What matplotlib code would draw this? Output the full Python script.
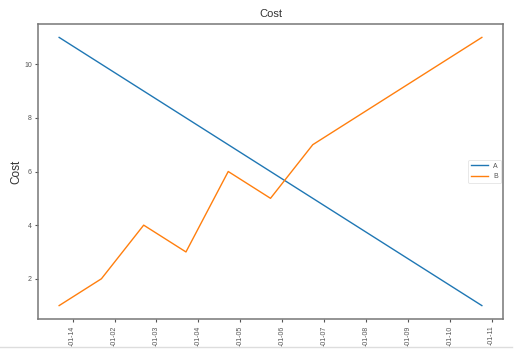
import matplotlib
matplotlib.use("Agg")
import matplotlib.pyplot as plt
import numpy as np
from matplotlib.lines import Line2D

labels = ["-01-14", "-01-02", "-01-03", "-01-04", "-01-05", "-01-06",
          "-01-07", "-01-08", "-01-09", "-01-10", "-01-11"]
series_a = [11, 10, 9, 8, 7, 6, 5, 4, 3, 2, 1]
series_b = [1, 2, 4, 3, 6, 5, 7, 8, 9, 10, 11]

plt.rcParams['font.family'] = ['Liberation Sans', 'DejaVu Sans']

W, H = 524, 357
fig = plt.figure(figsize=(W / 100, H / 100), dpi=100)
ax = fig.add_axes([38 / W, (H - 319) / H, 465 / W, 295 / H])

x = np.arange(len(series_a))
ax.plot(x, series_a, color='#1f77b4', lw=1.0, label='A')
ax.plot(x, series_b, color='#ff7f0e', lw=1.0, label='B')

ax.set_xticks(np.linspace(0.32, 10.23, len(labels)))
ax.set_xticklabels(labels, rotation=90)
ax.set_yticks([2, 4, 6, 8, 10])
ax.tick_params(labelsize=5, colors='#555555', length=2.5, width=0.8, pad=2)
for s in ax.spines.values():
    s.set_color('#777777')
    s.set_linewidth(1.1)

ax.set_title('Cost', fontsize=8, color='#333333', pad=5)
ax.set_ylabel('Cost', fontsize=8.5, color='#333333', labelpad=1)
leg = ax.legend(loc='center right', fontsize=5, frameon=True, handlelength=2.4,
                borderaxespad=0.3)
leg.get_frame().set_edgecolor('#dddddd')
leg.get_frame().set_linewidth(0.6)
for t in leg.get_texts():
    t.set_color('#555555')

fig.add_artist(Line2D([0, 512 / W], [(H - 347) / H] * 2, color='#dddddd', lw=1.0,
                      transform=fig.transFigure))

fig.savefig('out.png', dpi=100)
